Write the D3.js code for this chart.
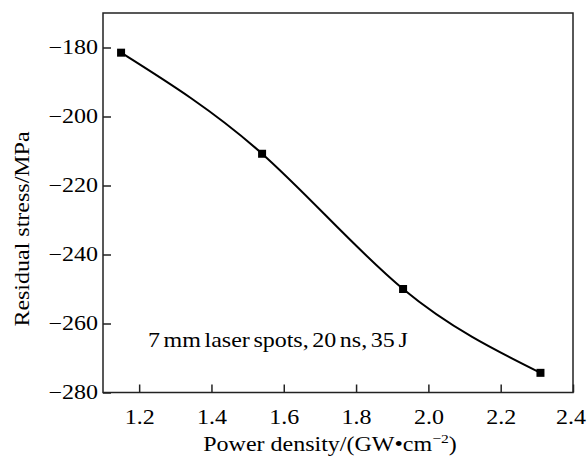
<!DOCTYPE html>
<html>
<head>
<meta charset="utf-8">
<script src="https://cdn.jsdelivr.net/npm/d3@7"></script>
<style>
  html, body { margin: 0; padding: 0; background: #fff; }
  svg { display: block; }
  text { font-family: "Liberation Serif", "Times New Roman", serif; fill: #000; }
</style>
</head>
<body>
<svg id="chart" width="587" height="457"></svg>
<script>
const powerDensity = [1.15, 1.54, 1.93, 2.31];
const residualStress = [-181.5, -210.8, -250.0, -274.3];
const xTicks = [1.2, 1.4, 1.6, 1.8, 2.0, 2.2, 2.4];
const yTicks = [-180, -200, -220, -240, -260, -280];
const xLabel = "Power density/(GW\u2022cm";
const yLabel = "Residual stress/MPa";
const note = "7 mm laser spots, 20 ns, 35 J";

const SX = 1.2; // horizontal stretch of the serif glyphs
const svg = d3.select("#chart");
const m = { left: 103, top: 13, right: 573, bottom: 392.5 };

const x = d3.scaleLinear().domain([1.1, 2.4]).range([m.left, m.right]);
const y = d3.scaleLinear().domain([-280, -170]).range([m.bottom, m.top]);

// frame
svg.append("rect")
  .attr("x", m.left).attr("y", m.top)
  .attr("width", m.right - m.left).attr("height", m.bottom - m.top)
  .attr("fill", "none").attr("stroke", "#222").attr("stroke-width", 1.5);

const fmtMinus = d => (d < 0 ? "\u2212" + Math.abs(d) : d3.format(".1f")(d));

// x axis (ticks inward)
const xAxis = svg.append("g").attr("transform", `translate(0,${m.bottom})`)
  .call(d3.axisBottom(x).tickValues(xTicks).tickSizeInner(-8).tickSizeOuter(0).tickPadding(17)
    .tickFormat(d => d3.format(".1f")(d)));
xAxis.select(".domain").remove();
xAxis.selectAll("line").attr("stroke", "#222").attr("stroke-width", 1.5);
xAxis.selectAll("text").attr("font-size", 20).attr("font-family", "Liberation Serif")
  .attr("fill", "#000").attr("transform", `scale(${SX},1)`)
  .attr("x", (d, i) => (i === xTicks.length - 1 ? -2.5 / SX : 0));

// y axis (ticks inward)
const yAxis = svg.append("g").attr("transform", `translate(${m.left},0)`)
  .call(d3.axisLeft(y).tickValues(yTicks).tickSizeInner(-8).tickSizeOuter(0).tickPadding(5)
    .tickFormat(fmtMinus));
yAxis.select(".domain").remove();
yAxis.selectAll("line").attr("stroke", "#222").attr("stroke-width", 1.5);
yAxis.selectAll("text").attr("font-size", 20).attr("font-family", "Liberation Serif")
  .attr("fill", "#000").attr("x", -5 / SX).attr("transform", `scale(${SX},1)`);

// curve
const pts = powerDensity.map((d, i) => [d, residualStress[i]]);
const line = d3.line().x(d => x(d[0])).y(d => y(d[1])).curve(d3.curveNatural);
svg.append("path").attr("d", line(pts))
  .attr("fill", "none").attr("stroke", "#000").attr("stroke-width", 2);

// markers
svg.selectAll("rect.mk").data(pts).enter().append("rect")
  .attr("class", "mk")
  .attr("x", d => x(d[0]) - 4).attr("y", d => y(d[1]) - 4)
  .attr("width", 8).attr("height", 8).attr("fill", "#000");

// annotation
svg.append("text").attr("transform", `translate(148,347) scale(${SX},1)`)
  .attr("font-size", 20).attr("word-spacing", -2).text(note);

// x label
const xl = svg.append("text").attr("transform", `translate(330,451) scale(${SX},1)`)
  .attr("text-anchor", "middle").attr("font-size", 20);
xl.append("tspan").text(xLabel);
xl.append("tspan").attr("dy", -8).attr("font-size", 13).text("\u22122");
xl.append("tspan").attr("dy", 8).text(")");

// y label
svg.append("text")
  .attr("transform", `translate(29,${(128 + 330) / 2}) rotate(-90) scale(${SX},1)`)
  .attr("text-anchor", "middle").attr("font-size", 20).text(yLabel);
</script>
</body>
</html>
